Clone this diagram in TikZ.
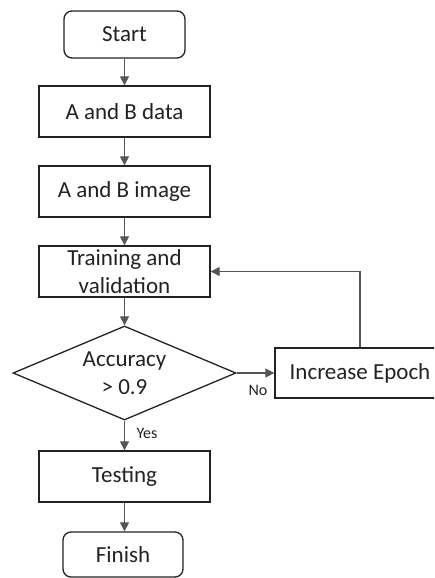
\documentclass[tikz,border=0pt]{standalone}
\usepackage{fontspec}
\setmainfont{Carlito}
\usetikzlibrary{shapes.geometric,arrows.meta}
\definecolor{ink}{HTML}{222222}
\definecolor{lne}{HTML}{555555}
\tikzset{
  every node/.style={text=ink},
  box/.style={draw=ink, line width=1.3pt, rectangle, minimum width=171pt, minimum height=51pt, inner sep=0pt, font=\fontsize{23}{28}\selectfont, align=center},
  term/.style={box, rounded corners=8pt, minimum width=121pt, minimum height=47pt},
  dec/.style={draw=ink, line width=1.3pt, diamond, minimum width=223pt, minimum height=94pt, inner sep=0pt, aspect=2.37},
  conn/.style={draw=lne, line width=1.1pt, -{Triangle[length=9pt,width=9pt]}},
  lab/.style={font=\fontsize{16}{18}\selectfont, inner sep=0pt}
}
\begin{document}
\begin{tikzpicture}[x=1pt,y=-1pt]
\useasboundingbox (0,0) rectangle (434,578);
\begin{scope}
\clip (0,0) rectangle (434,578);
\node[term] (start) at (124.5,34.5) {Start};
\node[box] (data) at (124.5,111.5) {A and B data};
\node[box] (image) at (124.5,191.5) {A and B image};
\node[box] (train) at (124.5,271.5) {Training and\\validation};
\node[dec] (acc) at (124.5,373) {};
\node[box, inner sep=0pt] at (acc) [draw=none, minimum width=0pt, minimum height=0pt] {Accuracy\\> 0.9};
\node[box, minimum width=170pt, minimum height=50pt] (incr) at (360,373) {Increase Epoch};
\node[box] (test) at (124.5,476.5) {Testing};
\node[term, minimum width=120pt, minimum height=45pt] (finish) at (123,554.5) {Finish};
\draw[conn] (start) -- (data);
\draw[conn] (data) -- (image);
\draw[conn] (image) -- (train);
\draw[conn] (train) -- (acc.north);
\draw[conn] (acc.east) -- (incr.west);
\draw[conn] (incr.north) |- (train.east);
\draw[conn] (acc.south) -- (test.north);
\draw[conn] (test.south -| start) -- (finish.north -| start);
\node[lab] (no) at (258,390) {No};
\node[lab] (yes) at (147,433) {Yes};
\end{scope}
\end{tikzpicture}
\end{document}
